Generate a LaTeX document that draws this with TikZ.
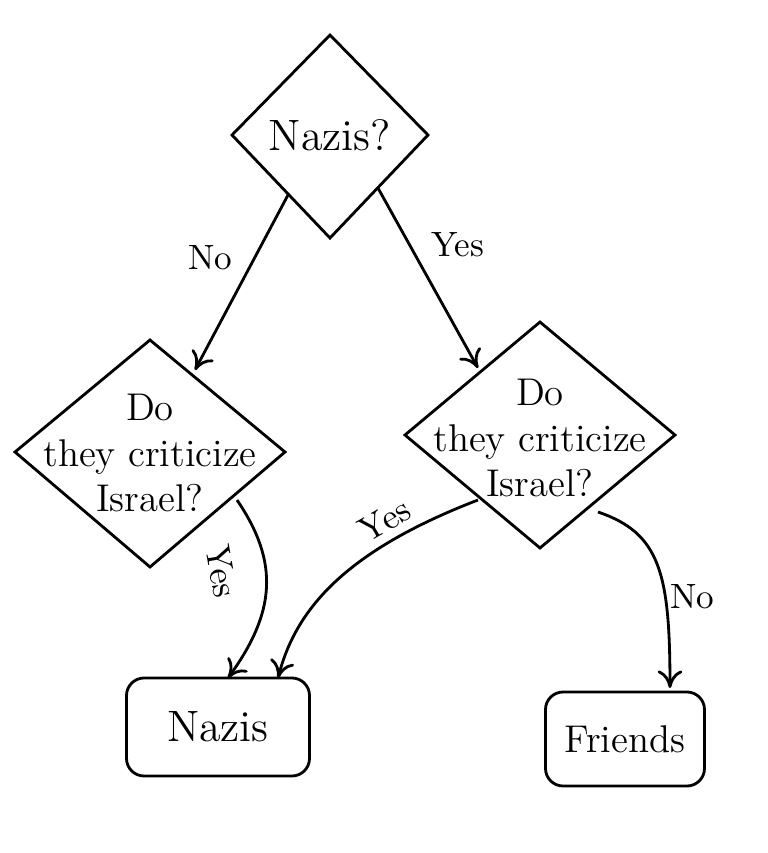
\documentclass[tikz,border=0pt]{standalone}
\usetikzlibrary{shapes.geometric,arrows.meta}
\begin{document}
\begin{tikzpicture}[thick,>={To[length=5pt,width=7pt]},
dec text/.style = {align=center,inner sep=0pt,font=\fontsize{11}{13}\selectfont},
end node/.style = {rectangle,draw,rounded corners=5pt,font=\fontsize{12.5}{14}\selectfont},
lbl/.style = {font=\fontsize{10}{11}\selectfont}]
\useasboundingbox (0,0) rectangle (7.68,8.53);
% decision diamonds
\node[dec text,font=\fontsize{12.5}{14}\selectfont] at (3.30,7.18) (top) {Nazis?};
\draw (2.32,7.18) -- (3.30,8.18) -- (4.28,7.18) -- (3.30,6.15) -- cycle;
\node[dec text] at (1.50,4.00) (left) {Do\\they criticize\\Israel?};
\draw (0.15,4.01) -- (1.50,5.13) -- (2.85,4.01) -- (1.50,2.86) -- cycle;
\node[dec text] at (5.40,4.15) (right) {Do\\they criticize\\Israel?};
\draw (4.05,4.18) -- (5.40,5.31) -- (6.75,4.18) -- (5.40,3.05) -- cycle;
% outcomes
\node[end node,minimum width=1.83cm,minimum height=0.98cm] at (2.18,1.26) (nazis) {Nazis};
\node[end node,minimum width=1.59cm,minimum height=0.94cm,font=\fontsize{11}{13}\selectfont] at (6.25,1.14) (friends) {Friends};

\coordinate (t1) at (2.88,6.58);
\coordinate (t2) at (3.78,6.65);
\draw[->] (t1) -- (1.95,4.83);
\draw[->] (t2) -- (4.78,4.85);
\node[lbl] at (2.10,5.95) (no1) {No};
\node[lbl] at (4.58,6.08) (yes1) {Yes};

\draw[->] (2.37,3.53) .. controls (2.80,2.90) and (2.75,2.40) .. (2.28,1.75);
\node[lbl,rotate=-80] at (2.22,2.82) (yes2) {Yes};
\draw[->] (4.78,3.53) .. controls (3.40,3.00) and (2.95,2.40) .. (2.78,1.75);
\node[lbl,rotate=30] at (3.85,3.33) (yes3) {Yes};
\draw[->] (5.98,3.41) .. controls (6.60,3.20) and (6.70,2.80) .. (6.70,1.65);
\node[lbl] at (6.92,2.56) (no2) {No};
\end{tikzpicture}
\end{document}
